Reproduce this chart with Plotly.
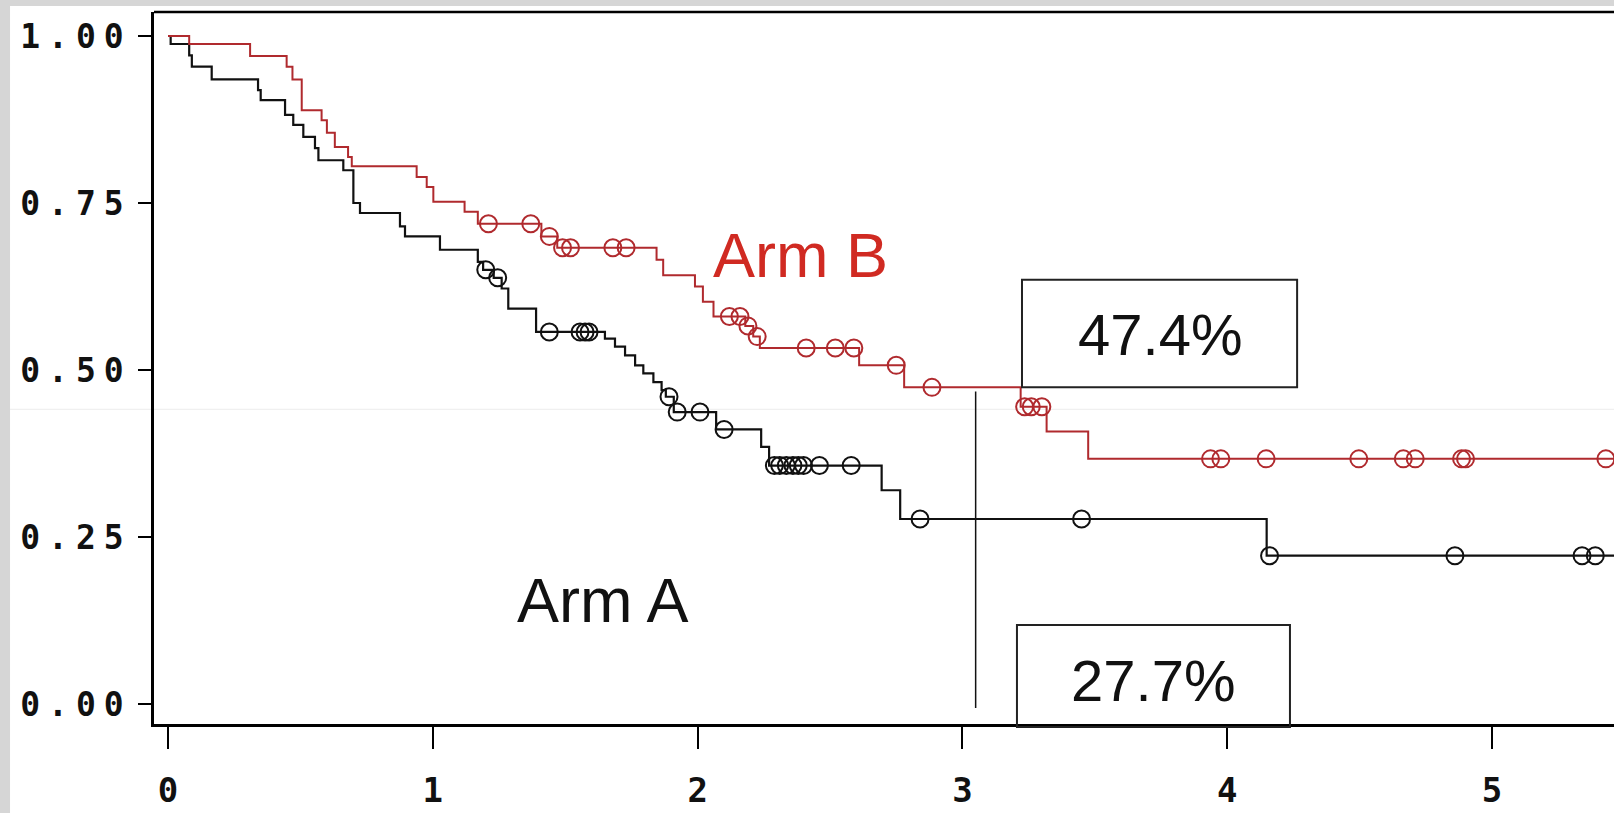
import plotly.graph_objects as go

# Kaplan-Meier style survival estimates by treatment arm
# Each arm: step times (years) and survival after each step, plus censoring times.
arm_a_times = [0.01, 0.08, 0.09, 0.165, 0.34, 0.35, 0.442, 0.473, 0.511, 0.555, 0.568,
               0.662, 0.700, 0.725, 0.876, 0.895, 1.027, 1.17, 1.19, 1.23, 1.26, 1.285,
               1.39, 1.65, 1.688, 1.726, 1.764, 1.795, 1.833, 1.864, 1.88, 1.91, 2.07,
               2.24, 2.27, 2.695, 2.765, 4.149]
arm_a_surv = [0.988, 0.971, 0.954, 0.935, 0.919, 0.904, 0.882, 0.867, 0.849, 0.832, 0.814,
              0.799, 0.750, 0.735, 0.715, 0.700, 0.680, 0.662, 0.650, 0.638, 0.622, 0.592,
              0.557, 0.547, 0.535, 0.522, 0.507, 0.495, 0.482, 0.470, 0.460, 0.437, 0.411,
              0.385, 0.357, 0.320, 0.277, 0.222]
arm_a_censored = [1.20, 1.245, 1.44, 1.556, 1.575, 1.59, 1.892, 1.923, 2.009, 2.10, 2.29,
                  2.31, 2.335, 2.36, 2.38, 2.40, 2.46, 2.58, 2.84, 3.45, 4.16, 4.86, 5.34, 5.39]

arm_b_times = [0.08, 0.31, 0.448, 0.47, 0.505, 0.58, 0.60, 0.63, 0.68, 0.694, 0.939, 0.977,
               1.002, 1.12, 1.17, 1.41, 1.47, 1.845, 1.87, 1.99, 2.02, 2.06, 2.18, 2.21,
               2.235, 2.61, 2.78, 3.22, 3.318, 3.475]
arm_b_surv = [0.988, 0.970, 0.954, 0.935, 0.889, 0.874, 0.855, 0.834, 0.819, 0.805, 0.789,
              0.774, 0.752, 0.737, 0.719, 0.700, 0.683, 0.665, 0.642, 0.625, 0.602, 0.580,
              0.566, 0.550, 0.533, 0.507, 0.474, 0.445, 0.408, 0.367]
arm_b_censored = [1.21, 1.37, 1.44, 1.49, 1.52, 1.68, 1.73, 2.12, 2.16, 2.19, 2.225, 2.41,
                  2.52, 2.59, 2.75, 2.885, 3.235, 3.26, 3.30, 3.937, 3.976, 4.147, 4.497,
                  4.665, 4.71, 4.885, 4.90, 5.43]

max_follow_up = 5.6
landmark_year = 3.05
arm_labels = ["Arm A", "Arm B"]
x_ticks = [0, 1, 2, 3, 4, 5]
y_ticks = [0.0, 0.25, 0.5, 0.75, 1.0]

BLACK = "#111111"
RED = "#b02a2e"
RED_TEXT = "#d02a22"


def surv_at(t, times, surv):
    s = 1.0
    for ti, si in zip(times, surv):
        if ti <= t:
            s = si
    return s


def step_path(times, surv, end):
    xs = [0.0] + list(times) + [end]
    ys = [1.0] + list(surv) + [surv[-1]]
    return xs, ys


fig = go.Figure()

for times, surv, cens, color, lw in [
    (arm_a_times, arm_a_surv, arm_a_censored, BLACK, 2.2),
    (arm_b_times, arm_b_surv, arm_b_censored, RED, 2.0),
]:
    xs, ys = step_path(times, surv, max_follow_up)
    fig.add_trace(go.Scatter(x=xs, y=ys, mode="lines", line_shape="hv",
                             line=dict(color=color, width=lw), hoverinfo="skip"))
    fig.add_trace(go.Scatter(
        x=cens, y=[surv_at(t, times, surv) for t in cens], mode="markers",
        marker=dict(symbol="circle-open", size=17, color=color, line=dict(width=2, color=color)),
        hoverinfo="skip"))

a_at_3 = surv_at(3.0, arm_a_times, arm_a_surv)
b_at_3 = surv_at(3.0, arm_b_times, arm_b_surv)

# plot area: x 154..1614 px, y 12..724 px
fig.update_layout(
    width=1614, height=813,
    margin=dict(l=154, r=0, t=12, b=89, autoexpand=False),
    paper_bgcolor="white", plot_bgcolor="white",
    showlegend=False,
    xaxis=dict(range=[-0.0529, 5.4607], tickvals=x_ticks, ticktext=[str(v) for v in x_ticks],
               showgrid=False, zeroline=False, showline=True, linecolor="black", linewidth=2.5,
               ticks="outside", ticklen=22, tickwidth=2, tickcolor="black",
               ticklabelstandoff=12, automargin=False,
               tickfont=dict(family="DejaVu Sans Mono", size=34, weight="bold", color="#111")),
    yaxis=dict(range=[-0.0299, 1.0359], tickvals=y_ticks, ticktext=[f"{v:.2f}" for v in y_ticks],
               showgrid=False, zeroline=False, showline=True, linecolor="black", linewidth=2.5,
               ticks="outside", ticklen=13, tickwidth=2, tickcolor="black",
               ticklabelstandoff=0, automargin=False,
               tickfont=dict(family="DejaVu Sans Mono", size=33, weight="bold", color="#111")),
)

shapes = [
    # grey frame strips
    dict(type="rect", xref="paper", yref="paper", x0=-0.1055, x1=-0.0986, y0=-0.13, y1=1.02,
         fillcolor="#d6d6d6", line=dict(width=0), layer="below"),
    dict(type="rect", xref="paper", yref="paper", x0=-0.1055, x1=1.01, y0=1.0084, y1=1.02,
         fillcolor="#d6d6d6", line=dict(width=0), layer="below"),
    # top border of the plot frame
    dict(type="line", xref="paper", yref="paper", x0=0, x1=1, y0=1, y1=1,
         line=dict(color="black", width=2.5)),
    # faint seam
    dict(type="line", xref="paper", yref="paper", x0=-0.0986, x1=1.0, y0=0.442, y1=0.442,
         line=dict(color="#ececec", width=1), layer="below"),
    # landmark line
    dict(type="line", xref="x", yref="y", x0=landmark_year, x1=landmark_year, y0=-0.006, y1=0.468,
         line=dict(color=BLACK, width=1.5)),
    # value boxes
    dict(type="rect", xref="x", yref="y", x0=3.225, x1=4.264, y0=b_at_3, y1=0.635,
         line=dict(color="#222", width=2)),
    dict(type="rect", xref="x", yref="paper", x0=3.206, x1=4.237, y0=-0.0042, y1=0.139,
         line=dict(color="#222", width=2)),
]
fig.update_layout(shapes=shapes)

annotations = [
    dict(x=3.746, y=0.553, text=f"{b_at_3 * 100:.1f}%", font=dict(family="Liberation Sans", size=58, color="#111")),
    dict(x=3.72, y=0.035, text=f"{a_at_3 * 100:.1f}%", font=dict(family="Liberation Sans", size=58, color="#111")),
    dict(x=2.387, y=0.672, text=arm_labels[1], font=dict(family="Liberation Sans", size=63, color=RED_TEXT)),
    dict(x=1.643, y=0.156, text=arm_labels[0], font=dict(family="Liberation Sans", size=63, color=BLACK)),
]
for a in annotations:
    a.update(xref="x", yref="y", showarrow=False, xanchor="center", yanchor="middle")
fig.update_layout(annotations=annotations)

# widen the character spacing of the survival tick labels
spacing_js = """
document.querySelectorAll('.ytick text').forEach(function (t) {
    t.style.letterSpacing = '8px';
});
"""
fig.write_html("out.html", post_script=spacing_js)
